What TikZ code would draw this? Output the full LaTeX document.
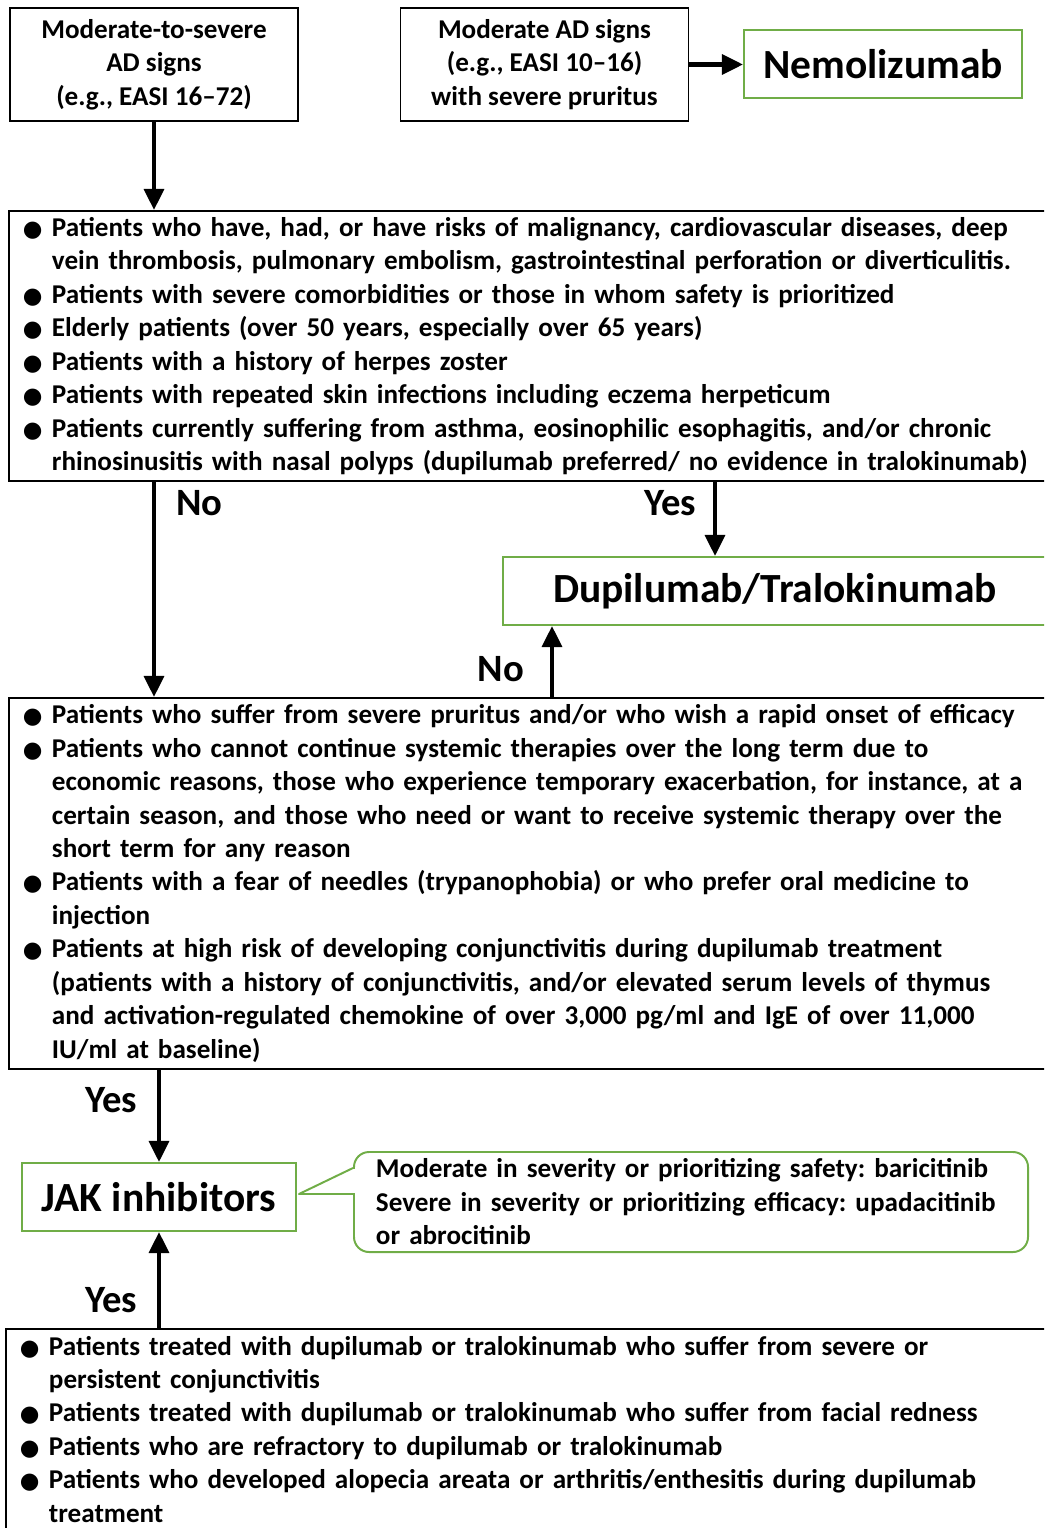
\documentclass[tikz,border=0pt]{standalone}
\usepackage{fontspec}
\setmainfont{Carlito}
\newfontfamily\bulletfont{DejaVu Sans}
\usepackage{xcolor}
\usetikzlibrary{positioning,arrows.meta}
\definecolor{drugGreen}{RGB}{112,173,71}
\frenchspacing
\newcommand{\bitem}[1]{\noindent\hangindent=7.25mm\hangafter=1%
  \makebox[7.25mm][l]{\bulletfont\fontsize{16}{16}\selectfont ●}#1\par}

\begin{document}
\begin{tikzpicture}[
    x=0.25mm, y=-0.25mm,
    font=\bfseries\fontsize{19.3}{23.8}\selectfont,
    signbox/.style={
      draw,
      line width=1.4pt,
      align=center,
      minimum width=72mm,
      minimum height=28.25mm,
      inner sep=0pt
    },
    drugbox/.style={
      draw=drugGreen,
      line width=1.4pt,
      minimum height=17mm,
      inner sep=0pt,
      font=\bfseries\fontsize{29.5}{34}\selectfont
    },
    listbox/.style={
      draw,
      line width=1.4pt,
      anchor=north west,
      text width=265mm,
      inner xsep=3.5mm,
      inner ysep=0.5mm,
      align=left
    },
    answer/.style={inner sep=0pt, font=\bfseries\fontsize{27.5}{30}\selectfont},
    arrow/.style={-{Triangle[length=15pt, width=14pt]}, line width=3pt}
  ]
  \useasboundingbox (0,0) rectangle (1044,1528);
  \clip (0,0) rectangle (1044,1528);

  \node[signbox] (severesigns) at (154,64.5) {
    Moderate-to-severe\\AD signs\\(e.g., EASI 16–72)
  };
  \node[signbox] (moderatesigns) at (544.5,64.5) {
    Moderate AD signs\\(e.g., EASI 10–16)\\with severe pruritus
  };
  \node[drugbox, minimum width=69.5mm] (nemolizumab) at (883,64) {Nemolizumab};

  \node[listbox, minimum height=67.5mm] (risklist) at (8,210) {
    \bitem{Patients who have, had, or have risks of malignancy, cardiovascular diseases, deep\newline
      vein thrombosis, pulmonary embolism, gastrointestinal perforation or diverticulitis.}
    \bitem{Patients with severe comorbidities or those in whom safety is prioritized}
    \bitem{Elderly patients (over 50 years, especially over 65 years)}
    \bitem{Patients with a history of herpes zoster}
    \bitem{Patients with repeated skin infections including eczema herpeticum}
    \bitem{Patients currently suffering from asthma, eosinophilic esophagitis, and/or chronic\newline
      rhinosinusitis with nasal polyps (dupilumab preferred/ no evidence in tralokinumab)}
  };

  \node[drugbox, minimum width=136mm] (dupilumab) at (775,591) {Dupilumab/Tralokinumab};

  \node[listbox, minimum height=92.75mm] (preferlist) at (8,697) {
    \bitem{Patients who suffer from severe pruritus and/or who wish a rapid onset of efficacy}
    \bitem{Patients who cannot continue systemic therapies over the long term due to\newline
      economic reasons, those who experience temporary exacerbation, for instance, at a\newline
      certain season, and those who need or want to receive systemic therapy over the\newline
      short term for any reason}
    \bitem{Patients with a fear of needles (trypanophobia) or who prefer oral medicine to\newline
      injection}
    \bitem{Patients at high risk of developing conjunctivitis during dupilumab treatment\newline
      (patients with a history of conjunctivitis, and/or elevated serum levels of thymus\newline
      and activation-regulated chemokine of over 3,000 pg/ml and IgE of over 11,000\newline
      IU/ml at baseline)}
  };

  \node[drugbox, minimum width=68.5mm] (jak) at (159,1197) {JAK inhibitors};
  \node[draw=drugGreen, line width=1.4pt, rounded corners=3.75mm,
    text width=157.5mm, inner xsep=5.5mm, minimum height=25mm, align=left] (jaknote) at (691,1202) {
    Moderate in severity or prioritizing safety: baricitinib\\
    Severe in severity or prioritizing efficacy: upadacitinib\\
    or abrocitinib
  };
  \fill[white] ([xshift=-0.6mm, yshift=8.2mm]jaknote.west) rectangle ([xshift=0.6mm, yshift=2.3mm]jaknote.west);
  \draw[drugGreen, line width=1.4pt, line join=round]
    ([yshift=8.5mm]jaknote.west) -- ([xshift=0.5mm, yshift=0.75mm]jak.east) -- ([yshift=2mm]jaknote.west);

  \node[listbox, inner ysep=1.75mm] (switchlist) at (5,1328) {
    \bitem{Patients treated with dupilumab or tralokinumab who suffer from severe or\newline
      persistent conjunctivitis}
    \bitem{Patients treated with dupilumab or tralokinumab who suffer from facial redness}
    \bitem{Patients who are refractory to dupilumab or tralokinumab}
    \bitem{Patients who developed alopecia areata or arthritis/enthesitis during dupilumab\newline
      treatment\rule[-15mm]{0pt}{1mm}}
  };

  \draw[arrow] (severesigns) -- (severesigns |- risklist.north);
  \draw[arrow] (moderatesigns) -- (moderatesigns -| nemolizumab.west);
  \draw[arrow] (severesigns |- risklist.south)
    -- node[answer, pos=0.1, right=5mm] {No} (severesigns |- preferlist.north);
  \draw[arrow] ([xshift=-15mm]dupilumab.north |- risklist.south)
    -- node[answer, pos=0.29, left=4.25mm] {Yes} ([xshift=-15mm]dupilumab.north);
  \draw[arrow] ([xshift=-55.75mm]dupilumab.south |- preferlist.north)
    -- node[answer, pos=0.39, left=6.5mm] {No} ([xshift=-55.75mm]dupilumab.south);
  \draw[arrow] (jak.north |- preferlist.south)
    -- node[answer, pos=0.33, left=5mm] {Yes} (jak.north);
  \draw[arrow] (jak.south |- switchlist.north)
    -- node[answer, pos=0.29, left=5mm] {Yes} (jak.south);
\end{tikzpicture}
\end{document}
